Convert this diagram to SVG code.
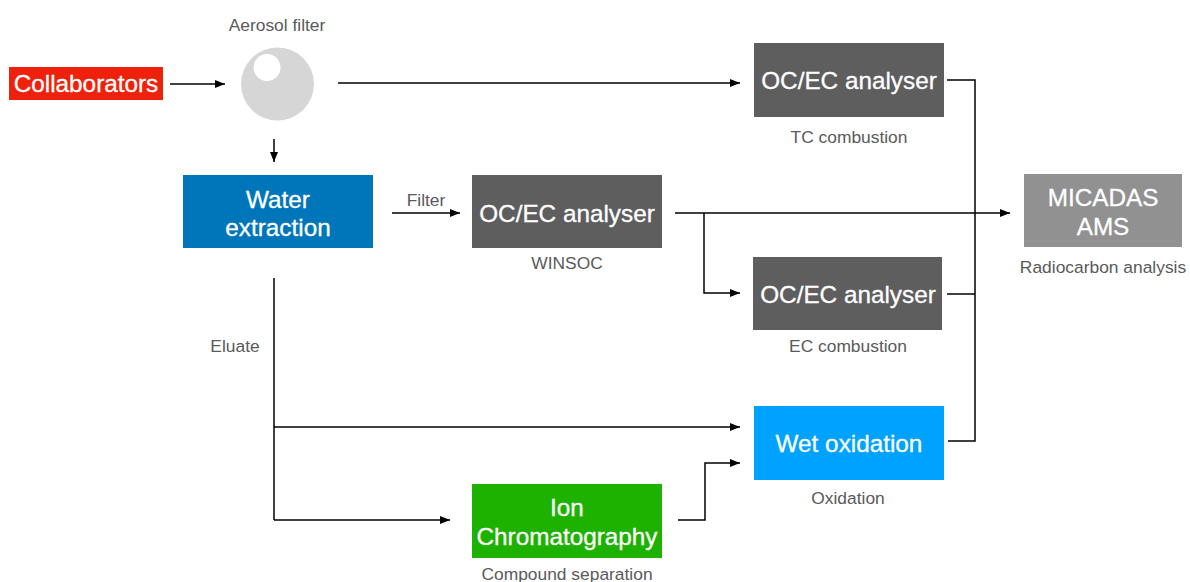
<svg xmlns="http://www.w3.org/2000/svg" width="1190" height="582" viewBox="0 0 1190 582">
<defs>
<marker id="ah" viewBox="0 0 10 8" refX="10" refY="4" markerWidth="10" markerHeight="8" markerUnits="userSpaceOnUse" orient="auto">
<path d="M0,0 L10,4 L0,8 Z" fill="#000"/>
</marker>
<style>
.box{font-family:"Liberation Sans",Arial,sans-serif;font-size:24.3px;fill:#fff;stroke:#fff;stroke-width:0.3;text-anchor:middle}
.lbl{font-family:"Liberation Sans",Arial,sans-serif;font-size:17.4px;fill:#5a5a5a;text-anchor:middle}
.c{fill:none;stroke:#000;stroke-width:1.5}
.a{marker-end:url(#ah)}
</style>
</defs>
<rect width="1190" height="582" fill="#fff"/>
<g id="connectors">
<path class="c a" d="M170,84 H225"/>
<path class="c a" d="M274,139 V162"/>
<path class="c a" d="M338,83 H740"/>
<path class="c" d="M947,80 H975 V441 H948"/>
<path class="c" d="M947,294 H975"/>
<path class="c a" d="M392,213 H460"/>
<path class="c a" d="M675,213 H1010"/>
<path class="c a" d="M704,213 V293 H740"/>
<path class="c" d="M274,278 V520"/>
<path class="c a" d="M274,427 H740"/>
<path class="c a" d="M274,520 H450"/>
<path class="c a" d="M678,520 H705 V463 H740"/>
</g>
<g id="collaborators">
<rect x="9" y="67" width="154" height="33" fill="#EE220C"/>
<text class="box" x="86" y="92">Collaborators</text>
</g>
<g id="aerosol-filter">
<circle cx="277.5" cy="84" r="36.5" fill="#D6D6D6"/>
<circle cx="267" cy="67.5" r="13.5" fill="#fff"/>
<text class="lbl" x="277" y="31">Aerosol filter</text>
</g>
<g id="ocec-tc">
<rect x="754" y="43" width="190" height="74" fill="#5E5E5E"/>
<text class="box" x="849" y="89">OC/EC analyser</text>
<text class="lbl" x="849" y="143">TC combustion</text>
</g>
<g id="micadas">
<rect x="1024" y="174" width="158" height="73" fill="#919191"/>
<text class="box" x="1103" y="205.5">MICADAS</text>
<text class="box" x="1103" y="234.5">AMS</text>
<text class="lbl" x="1103" y="273">Radiocarbon analysis</text>
</g>
<g id="water-extraction">
<rect x="183" y="175" width="190" height="73" fill="#0076BA"/>
<text class="box" x="278" y="207.5">Water</text>
<text class="box" x="278" y="235.5">extraction</text>
<text class="lbl" x="426" y="206">Filter</text>
<text class="lbl" x="235" y="352">Eluate</text>
</g>
<g id="ocec-winsoc">
<rect x="472" y="175" width="190" height="73" fill="#5E5E5E"/>
<text class="box" x="567" y="221.5">OC/EC analyser</text>
<text class="lbl" x="567" y="269">WINSOC</text>
</g>
<g id="ocec-ec">
<rect x="753" y="257" width="189" height="73" fill="#5E5E5E"/>
<text class="box" x="848" y="302.5">OC/EC analyser</text>
<text class="lbl" x="848" y="352">EC combustion</text>
</g>
<g id="wet-oxidation">
<rect x="754" y="406" width="190" height="74" fill="#00A2FF"/>
<text class="box" x="849" y="451.5">Wet oxidation</text>
<text class="lbl" x="848" y="504">Oxidation</text>
</g>
<g id="ion-chromatography">
<rect x="472" y="484" width="190" height="74" fill="#1DB100"/>
<text class="box" x="567" y="515.5">Ion</text>
<text class="box" x="567" y="544.5">Chromatography</text>
<text class="lbl" x="567" y="580">Compound separation</text>
</g>
</svg>
